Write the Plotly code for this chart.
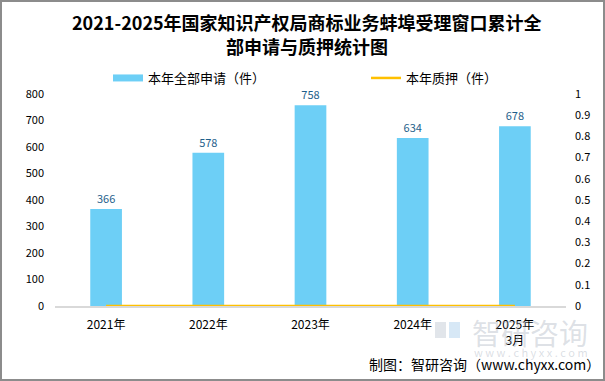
import plotly.graph_objects as go

categories = ["2021年", "2022年", "2023年", "2024年", "2025年<br>3月"]
applications = [366, 578, 758, 634, 678]
pledges = [0, 0, 0, 0, 0]
left_ticks = [0, 100, 200, 300, 400, 500, 600, 700, 800]
right_ticks = [0, 0.1, 0.2, 0.3, 0.4, 0.5, 0.6, 0.7, 0.8, 0.9, 1]
title_lines = ["2021-2025年国家知识产权局商标业务蚌埠受理窗口累计全", "部申请与质押统计图"]

FONT = "Noto Sans CJK SC"
W, H = 605, 381
L, R, T, B = 55, 39, 94, 75
PW, PH = W - L - R, H - T - B
BLUE = "#6DCFF6"
YELLOW = "#FFC000"


def px(x):
    return (x - L) / PW


def py(y):
    return (H - B - y) / PH


fig = go.Figure()
fig.add_trace(go.Bar(
    x=categories, y=applications, name="本年全部申请（件）",
    marker=dict(color=BLUE, line=dict(width=0)),
    width=0.31, showlegend=False,
    text=[str(v) for v in applications], textposition="outside",
    textfont=dict(color="#1F5F8B", size=11, family=FONT),
    cliponaxis=False,
))
# legend proxy for the bars (wide rectangle symbol)
fig.add_trace(go.Scatter(
    x=[None], y=[None], name="本年全部申请（件）", mode="lines",
    line=dict(color=BLUE, width=7), legend="legend",
))
fig.add_trace(go.Scatter(
    x=categories, y=pledges, name="本年质押（件）", yaxis="y2",
    mode="lines", line=dict(color=YELLOW, width=2.5), legend="legend2",
))

leg_common = dict(orientation="h", yanchor="top", xanchor="left",
                  font=dict(size=13, family=FONT), bgcolor="rgba(0,0,0,0)")

fig.update_layout(
    width=W, height=H,
    margin=dict(l=L, r=R, t=T, b=B, autoexpand=False),
    paper_bgcolor="white", plot_bgcolor="white",
    font=dict(family=FONT, size=11, color="#000000"),
    legend=dict(x=px(108), y=py(63), **leg_common),
    legend2=dict(x=px(366), y=py(63), **leg_common),
    bargap=0.69,
    xaxis=dict(
        showline=True, linecolor="#D9D9D9", linewidth=1.5, showgrid=False,
        ticks="", tickfont=dict(size=12, family=FONT), zeroline=False,
        ticklabelstandoff=7,
    ),
    yaxis=dict(
        range=[0, 800], tickvals=left_ticks, showgrid=False, zeroline=False,
        showline=False, ticks="", ticklabelstandoff=10,
        tickfont=dict(size=11, family=FONT),
    ),
    yaxis2=dict(
        range=[0, 1], tickvals=right_ticks, overlaying="y", side="right",
        showgrid=False, zeroline=False, showline=False, ticks="",
        ticklabelstandoff=8, tickfont=dict(size=11, family=FONT),
    ),
    showlegend=True,
)

# title lines
for line, yy in zip(title_lines, [22, 46]):
    fig.add_annotation(
        text="<b>" + line + "</b>", xref="paper", yref="paper",
        x=px(307), y=py(yy), xanchor="center", yanchor="middle",
        showarrow=False, font=dict(size=18, color="#000000", family=FONT),
    )

# watermark logo
fig.add_shape(type="rect", xref="paper", yref="paper",
              x0=px(435), x1=px(446), y0=py(338), y1=py(322),
              line=dict(width=0), fillcolor="rgba(170,180,195,0.35)", layer="below")
fig.add_shape(type="rect", xref="paper", yref="paper",
              x0=px(449), x1=px(460), y0=py(338), y1=py(322),
              line=dict(width=0), fillcolor="rgba(140,190,230,0.35)", layer="below")
fig.add_annotation(
    text="智研咨询", xref="paper", yref="paper",
    x=px(590), y=py(332), xanchor="right", yanchor="middle",
    showarrow=False, font=dict(size=29, color="rgba(150,160,175,0.32)", family=FONT),
)
fig.add_annotation(
    text="w w w . c h y x x . c o m", xref="paper", yref="paper",
    x=px(590), y=py(352), xanchor="right", yanchor="middle",
    showarrow=False, font=dict(size=11, color="rgba(150,160,175,0.35)", family=FONT),
)
# source
fig.add_annotation(
    text="制图：智研咨询（www.chyxx.com）", xref="paper", yref="paper",
    x=px(602), y=py(364), xanchor="right", yanchor="middle",
    showarrow=False, font=dict(size=14, color="#000000", family=FONT),
)
# border
fig.add_shape(
    type="rect", xref="paper", yref="paper",
    x0=px(1), x1=px(W - 1), y0=py(H - 1), y1=py(1),
    line=dict(color="#8C8C8C", width=2), fillcolor="rgba(0,0,0,0)", layer="above",
)

fig.write_html(
    "out.html",
    config={"displayModeBar": False},
    post_script="document.body.style.margin='0';document.body.style.padding='0';",
)
